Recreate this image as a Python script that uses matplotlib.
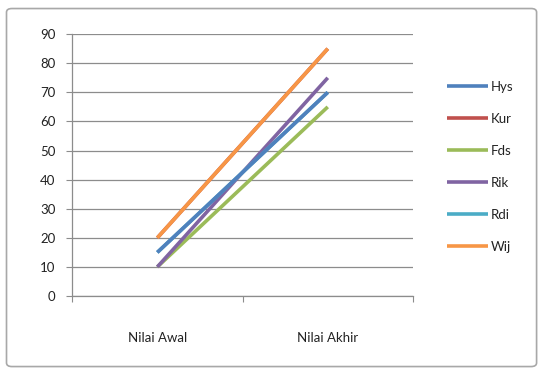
import matplotlib.pyplot as plt
from matplotlib.patches import FancyBboxPatch

# nilai tiap siswa
kategori = ["Nilai Awal", "Nilai Akhir"]
nama = ["Hys", "Kur", "Fds", "Rik", "Rdi", "Wij"]
hys = [15, 70]
kur = [20, 85]
fds = [10, 65]
rik = [10, 75]
rdi = [15, 70]
wij = [20, 85]
warna = ["#4F81BD", "#C0504D", "#9BBB59", "#8064A2", "#4BACC6", "#F79646"]
urutan = [6, 2, 3, 4, 5, 7]  # garis Hys di atas Rdi

plt.rcParams['font.family'] = ['Lato', 'DejaVu Sans']

fig = plt.figure(figsize=(5.42, 3.71), dpi=100)
ax = fig.add_axes([0.133, 0.202, 0.629, 0.706])

x = range(len(kategori))
for data, label, c, z in zip([hys, kur, fds, rik, rdi, wij], nama, warna, urutan):
    ax.plot(x, data, color=c, lw=2.6, label=label, solid_capstyle='butt', zorder=z)

ax.set_xlim(-0.5, 1.5)
ax.set_ylim(0, 90)
ax.set_yticks(range(0, 91, 10))
ax.yaxis.grid(True, color="#8c8c8c", lw=0.9)
ax.set_axisbelow(True)
ax.set_xticks([-0.5, 0.5, 1.5])
ax.set_xticklabels([])
ax.set_xticks([0, 1], minor=True)
ax.set_xticklabels(kategori, minor=True)
ax.tick_params(axis='x', which='minor', length=0, pad=26, labelsize=9.5, colors="#222222")
ax.tick_params(axis='x', which='major', length=4, color="#8c8c8c")
ax.tick_params(axis='y', length=4, color="#8c8c8c", labelsize=9.5, labelcolor="#222222", pad=8)

for s in ["top", "right"]:
    ax.spines[s].set_visible(False)
for s in ["left", "bottom"]:
    ax.spines[s].set_color("#8c8c8c")
    ax.spines[s].set_linewidth(0.9)

leg = ax.legend(loc='center left', bbox_to_anchor=(1.066, 0.493), frameon=False,
                fontsize=9.5, handlelength=3.1, handletextpad=0.2, labelspacing=1.52)
for t in leg.get_texts():
    t.set_color("#222222")

# bingkai luar
bingkai = FancyBboxPatch((0.012, 0.012), 0.978, 0.965, boxstyle="round,pad=0,rounding_size=0.01",
                         transform=fig.transFigure, fill=False, ec="#a8a8a8", lw=1.2)
fig.patches.append(bingkai)

fig.savefig("out.png", dpi=100)
